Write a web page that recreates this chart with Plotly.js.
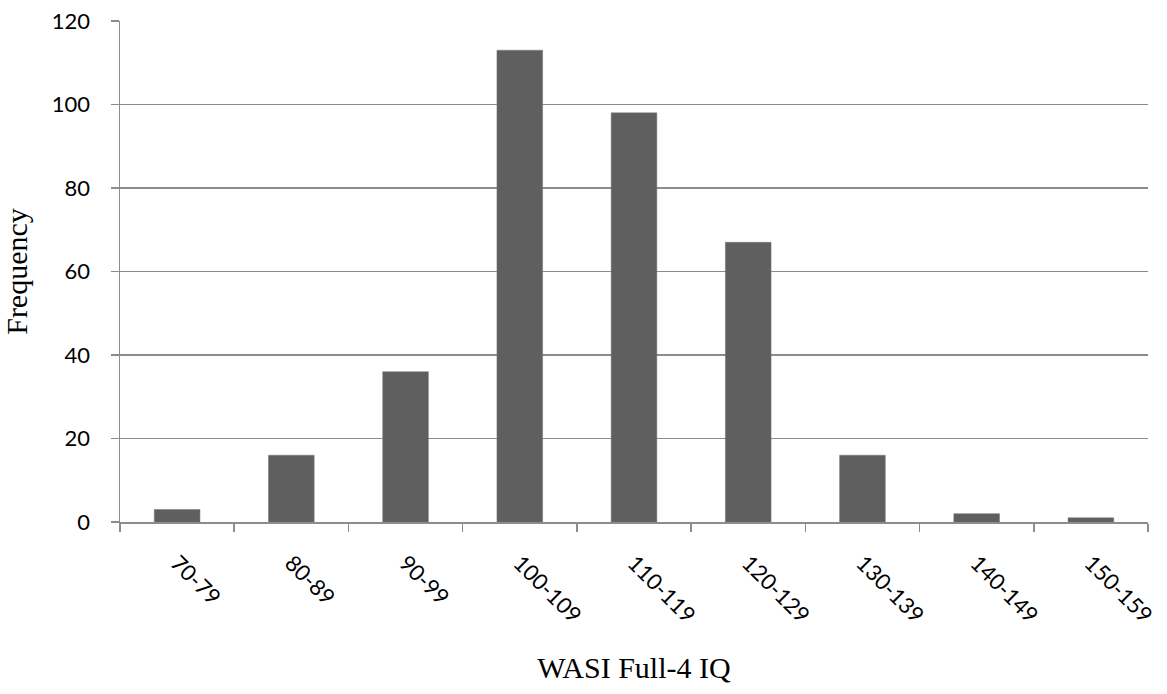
<!DOCTYPE html>
<html>
<head>
<meta charset="utf-8">
<script src="https://cdn.plot.ly/plotly-3.0.1.min.js"></script>
<style>html,body{margin:0;padding:0;background:#fff;}#chart{width:1167px;height:694px;}</style>
</head>
<body>
<div id="chart"></div>
<script>
const categories = ["70-79","80-89","90-99","100-109","110-119","120-129","130-139","140-149","150-159"];
const frequency = [3, 16, 36, 113, 98, 67, 16, 2, 1];
const yTicks = [0, 20, 40, 60, 80, 100, 120];
const yRange = [0, 120];

const tickFont = {family: "Lato, 'Open Sans', sans-serif", size: 22, color: "#000"};
const titleFont = {family: "'Liberation Serif', 'Times New Roman', serif", size: 30, color: "#000"};
const axisGray = "#8c8c8c";

const trace = {
  type: "bar",
  x: categories,
  y: frequency,
  marker: {color: "#5f5f5f", line: {color: "#777777", width: 0.5}},
  width: 0.4,
  hoverinfo: "x+y"
};
// empty trace so the overlay axis (visible short tick marks) is drawn
const tickAxisTrace = {type: "scatter", mode: "markers", x: [], y: [], yaxis: "y2", showlegend: false, hoverinfo: "skip"};

const layout = {
  width: 1167,
  height: 694,
  margin: {l: 120, r: 19, t: 21, b: 172},
  paper_bgcolor: "#ffffff",
  plot_bgcolor: "#ffffff",
  showlegend: false,
  font: tickFont,
  xaxis: {
    type: "category",
    categoryarray: categories,
    tickangle: 45,
    tickson: "boundaries",
    ticks: "outside",
    ticklen: 8,
    tickcolor: axisGray,
    tickwidth: 1.5,
    ticklabelstandoff: 18,
    showline: true,
    linecolor: axisGray,
    linewidth: 1.5,
    showgrid: false,
    tickfont: tickFont,
    title: {text: "WASI Full-4 IQ", font: titleFont, standoff: 30},
    automargin: false
  },
  yaxis: {
    range: yRange,
    tickvals: yTicks,
    ticks: "outside",
    ticklen: 24,
    tickcolor: "rgba(0,0,0,0)",
    showline: true,
    linecolor: axisGray,
    linewidth: 1.5,
    showgrid: true,
    gridcolor: axisGray,
    gridwidth: 1.5,
    zeroline: false,
    tickfont: tickFont,
    title: {text: "Frequency", font: titleFont, standoff: 30},
    automargin: false
  },
  yaxis2: {
    overlaying: "y",
    side: "left",
    range: yRange,
    tickvals: yTicks,
    ticks: "outside",
    ticklen: 8,
    tickcolor: axisGray,
    tickwidth: 1.5,
    showticklabels: false,
    showline: false,
    showgrid: false,
    zeroline: false,
    automargin: false
  }
};

Plotly.newPlot("chart", [trace, tickAxisTrace], layout, {displayModeBar: false, staticPlot: true});
</script>
</body>
</html>
